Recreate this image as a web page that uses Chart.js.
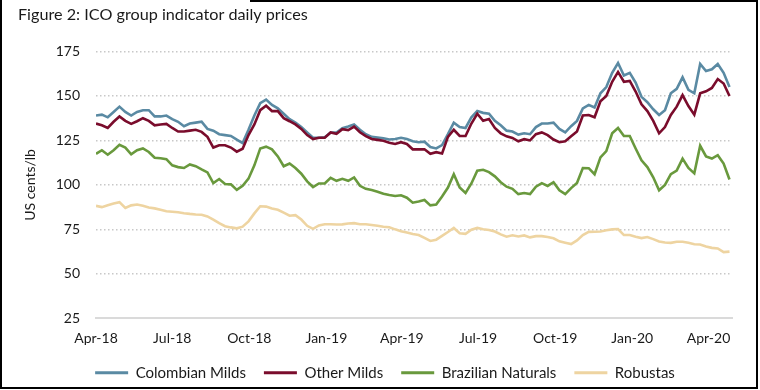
<!DOCTYPE html>
<html>
<head>
<meta charset="utf-8">
<script src="https://cdn.jsdelivr.net/npm/chart.js@4.4.0/dist/chart.umd.min.js"></script>
<style>
  html, body { margin: 0; padding: 0; background: #fff; }
  #wrap { width: 760px; height: 390px; }
</style>
</head>
<body>
<div id="wrap"><canvas id="ico_chart"></canvas></div>
<script>
// weekly readings, x = days since 1 Apr 2018
const weekStep = 7;

const colombianMilds = [
  139, 139.5, 138, 141, 144, 141, 139, 141, 142, 142,
  138.5, 138.5, 139, 137, 135.5, 133, 134.5, 135, 135.5, 131.5,
  130.5, 128.5, 128, 127.5, 125.5, 123.5, 131, 139, 146, 148,
  145, 143, 140, 137, 135, 132.5, 129.5, 126.5, 126.5, 126.8,
  129.5, 129.5, 131.9, 132.8, 134, 131, 128.5, 127, 126.6, 126.2,
  125.5, 125.8, 126.5, 125.8, 124.5, 124, 124.3, 121.3, 120.5, 122.4,
  128.5, 135, 132.5, 132, 138, 141.5, 140.5, 140, 136, 133.5,
  130.5, 130, 128.3, 129, 128.5, 132.5, 134.5, 134.5, 135, 131.5,
  129.5, 133, 136, 143, 145, 143.5, 151.5, 155, 163, 168.5,
  161.5, 163, 157.5, 149.5, 146.5, 142.5, 139.3, 142, 151.5, 154,
  160.5, 153.4, 151.5, 168, 164, 165, 168, 163, 155
];

const otherMilds = [
  134.5, 133.5, 132, 135.5, 138.5, 136, 134.3, 135.8, 137.5, 136,
  133.5, 134, 134.3, 132, 130, 130, 130.5, 131, 129.8, 127,
  121, 122.3, 122.3, 121, 118.7, 120.3, 128, 134, 142, 144.5,
  141.5, 141.5, 137.5, 135.8, 134, 131.5, 128, 125.8, 126.5, 126.5,
  129.5, 128.7, 131.3, 130.8, 132.8, 129.6, 127.4, 125.8, 125.3, 124.8,
  123.7, 123, 124, 123, 120, 120, 120, 117.5, 118.4, 117.7,
  127, 131, 127.5, 127.5, 134.5, 140, 136, 137, 132, 129,
  127.3, 126.4, 124.5, 125.7, 125, 128.5, 129.5, 128, 125.5, 124,
  124.5, 127.3, 130, 139, 139.3, 138, 147, 150, 158, 163.5,
  158, 158.5, 152.5, 145.3, 141.5, 136, 129, 132.5, 139.3, 144,
  150.5, 144.3, 139.5, 151.5, 152.6, 154.5, 159.5, 157, 150
];

const brazilianNaturals = [
  117.5, 119.5, 117, 119.5, 122.5, 121, 117.2, 119.5, 120.5, 118.5,
  115.3, 115, 114.5, 111, 110, 109.5, 111.5, 110.5, 108.7, 107,
  101, 103.3, 100.5, 100.3, 97.2, 99.5, 103.5, 111, 120.5, 121.5,
  120, 116, 110.5, 112, 109.5, 106.3, 102, 98.8, 100.8, 100.8,
  104, 102.3, 103.4, 102.3, 104.2, 99.5, 97.8, 97.1, 96.2, 95,
  94.3, 93.8, 94.2, 92.8, 90, 90.7, 91.5, 88.5, 89, 93.5,
  98.5, 106, 98.5, 95.5, 100.8, 108, 108.5, 107.2, 104.8, 101.5,
  99, 97.8, 94.8, 95.4, 94.8, 99, 101, 99.4, 101.5, 97,
  94.8, 98.2, 101.1, 109.5, 109.4, 106, 115.5, 119, 129, 132,
  127.5, 127.5, 120.5, 113.8, 110, 104.3, 97, 100, 106, 108,
  114.8, 109.5, 106.5, 122, 116, 114.8, 116.7, 112, 103
];

const robustas = [
  88.2, 87.5, 88.5, 89.5, 90.3, 87, 88.5, 89, 88.3, 87.3,
  86.8, 86, 85.2, 84.9, 84.6, 84.1, 83.7, 83.4, 83.2, 82.3,
  80.5, 78.5, 76.8, 76.1, 75.6, 76.5, 79.5, 84, 88, 87.8,
  86.7, 86, 84.4, 82.7, 83, 80.5, 77, 75.3, 77.2, 77.9,
  77.9, 77.7, 77.8, 78.3, 78.5, 77.9, 77.9, 77.5, 77, 76.5,
  76.2, 75, 74, 73.2, 72.4, 71.8, 70.2, 68.5, 69.2, 71.3,
  73.5, 75.8, 72.8, 72.5, 74.8, 75.8, 75.1, 74.6, 73.8, 72.2,
  70.9, 71.7, 71, 71.6, 70.5, 71.2, 71.2, 70.7, 70, 68.3,
  67.5, 66.7, 68.8, 71.8, 73.6, 73.7, 73.8, 74.5, 75, 75.2,
  71.8, 71.8, 70.9, 70.1, 70.7, 69.5, 68.2, 67.6, 67.4, 68,
  68, 67.5, 66.6, 66.5, 65.4, 64.6, 64.3, 62.2, 62.5
];

const tickDays = [0, 91, 183, 275, 365, 456, 548, 640, 731];
const tickLabels = ["Apr-18", "Jul-18", "Oct-18", "Jan-19", "Apr-19", "Jul-19", "Oct-19", "Jan-20", "Apr-20"];

const figureTitle = "Figure 2: ICO group indicator daily prices";

const days = colombianMilds.map((_, i) => i * weekStep);
const toPoints = (arr) => arr.map((v, i) => ({ x: days[i], y: v }));

function line(label, values, color, order) {
  return {
    label: label,
    data: toPoints(values),
    borderColor: color,
    backgroundColor: color,
    borderWidth: 2.6,
    pointRadius: 0,
    tension: 0,
    order: order,
  };
}

// caption and the box round the figure
const framePlugin = {
  id: "frame",
  afterDraw(chart) {
    const ctx = chart.ctx;
    ctx.save();
    ctx.fillStyle = "#1a1a1a";
    ctx.font = "16.2px Lato";
    ctx.textBaseline = "middle";
    ctx.textAlign = "left";
    ctx.fillText(figureTitle, 18, 14.5);

    ctx.strokeStyle = "#000";
    ctx.lineWidth = 2;
    ctx.beginPath();
    ctx.moveTo(250, 1);
    ctx.lineTo(757, 1);
    ctx.lineTo(757, 388);
    ctx.lineTo(1, 388);
    ctx.lineTo(1, 0);
    ctx.stroke();
    ctx.restore();
  },
};

Chart.defaults.font.family = "Lato";
Chart.defaults.color = "#1a1a1a";

new Chart(document.getElementById("ico_chart"), {
  type: "line",
  data: {
    datasets: [
      line("Colombian Milds", colombianMilds, "#5a8aa3", 4),
      line("Other Milds", otherMilds, "#7a0c2c", 3),
      line("Brazilian Naturals", brazilianNaturals, "#69993d", 2),
      line("Robustas", robustas, "#eed4a1", 1),
    ],
  },
  options: {
    responsive: true,
    maintainAspectRatio: false,
    animation: false,
    layout: { padding: { left: 38, right: 28, top: 51.5, bottom: -0.3 } },
    scales: {
      x: {
        type: "linear",
        min: 0,
        max: 759,
        grid: { display: false, drawTicks: false },
        border: { display: true, color: "#dadada", width: 2 },
        afterBuildTicks: (scale) => {
          scale.ticks = tickDays.map((d) => ({ value: d }));
        },
        afterFit: (scale) => {
          scale.height = 29;
        },
        ticks: {
          autoSkip: false,
          maxRotation: 0,
          padding: 12,
          font: { size: 14 },
          callback: (value) => tickLabels[tickDays.indexOf(value)],
        },
      },
      y: {
        min: 25,
        max: 175,
        afterFit: (scale) => {
          scale.width = 58;
        },
        ticks: {
          stepSize: 25,
          padding: 16,
          font: { size: 14 },
        },
        grid: {
          drawTicks: false,
          lineWidth: 1.5,
          color: (c) => (c.tick && c.tick.value === 25 ? "transparent" : "#c8c8c8"),
        },
        border: { display: false, dash: [1.5, 2.5] },
        title: {
          display: true,
          text: "US cents/lb",
          font: { size: 14 },
          padding: { top: -16, bottom: 0 },
        },
      },
    },
    plugins: {
      legend: {
        position: "bottom",
        labels: {
          boxWidth: 33,
          boxHeight: 3,
          padding: 18,
          font: { size: 15 },
          sort: (a, b) => a.datasetIndex - b.datasetIndex,
          generateLabels: (chart) =>
            Chart.defaults.plugins.legend.labels.generateLabels(chart).map((l) => ({ ...l, lineWidth: 0 })),
        },
      },
      tooltip: { enabled: false },
    },
  },
  plugins: [framePlugin],
});
</script>
</body>
</html>
